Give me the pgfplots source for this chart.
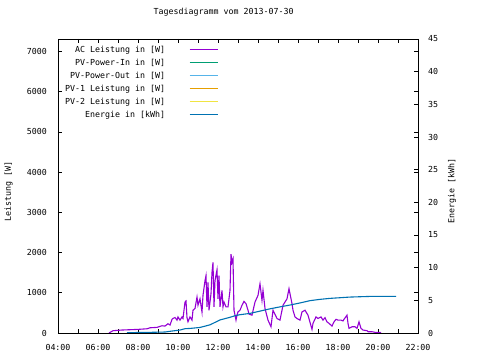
\documentclass[border=0pt]{standalone}
\usepackage{fontspec}
\setmainfont{DejaVu Sans Mono}
\usepackage{pgfplots}
\pgfplotsset{compat=1.18}
\definecolor{cac}{HTML}{9400D3}
\definecolor{cpin}{HTML}{009E73}
\definecolor{cpout}{HTML}{56B4E9}
\definecolor{cpv1}{HTML}{E69F00}
\definecolor{cpv2}{HTML}{F0E442}
\definecolor{cen}{HTML}{0072B2}
\begin{document}
\begin{tikzpicture}[font=\fontsize{8.3bp}{10bp}\selectfont]
\useasboundingbox (-58bp,-27bp) rectangle (422bp,333bp);
\pgfplotsset{gpbase/.style={scale only axis, width=360bp, height=294bp, at={(0,0)}, anchor=south west,
  xmin=4, xmax=22, tick align=inside, major tick length=4bp,
  /pgf/number format/assume math mode=true,
  tick style={black, line width=0.8bp}, axis line style={line width=0.9bp},
  every tick label/.append style={font=\fontsize{8.3bp}{10bp}\selectfont},
  label style={font=\fontsize{8.3bp}{10bp}\selectfont}}}
\begin{axis}[gpbase, ymin=0, ymax=7310, ytick={0,1000,...,7000}, ytick pos=both, yticklabel pos=left,
  scaled y ticks=false, yticklabel style={/pgf/number format/1000 sep={}, inner sep=0pt, xshift=-11bp},
  xtick={4,5,...,22}, xtick pos=both, xticklabel pos=lower,
  xticklabels={04:00,,06:00,,08:00,,10:00,,12:00,,14:00,,16:00,,18:00,,20:00,,22:00},
  xticklabel style={inner sep=0pt, yshift=-11bp},
  ylabel={Leistung [W]}, ylabel style={at={(axis description cs:-0.1375,0.48)}, anchor=center},
  title={Tagesdiagramm vom 2013-07-30}, title style={at={(axis description cs:0.46,1.0714)}, anchor=center, font=\fontsize{8.3bp}{10bp}\selectfont}]
\addplot[color=cac, line width=1.1bp] coordinates {
(6.55,0) (6.75,57) (7.2,74) (8.0,90) (8.45,105) (8.6,130) (8.95,140) (9.2,180) (9.35,172) (9.5,230)
(9.6,197) (9.7,337) (9.75,361) (9.85,385) (9.95,320) (10.0,400) (10.1,320) (10.2,400) (10.25,360)
(10.35,770) (10.4,795) (10.45,380) (10.5,280) (10.6,400) (10.7,320) (10.75,566) (10.85,610) (10.95,893)
(11.0,690) (11.1,850) (11.2,520) (11.25,935) (11.35,1304) (11.4,1427) (11.45,650) (11.5,1260) (11.55,566)
(11.65,975) (11.7,1508) (11.75,1754) (11.8,650) (11.85,1304) (11.95,1570) (12.0,850) (12.05,1427)
(12.1,650) (12.2,1058) (12.25,650) (12.3,770) (12.4,650) (12.5,650) (12.6,1058) (12.65,1962) (12.7,1754)
(12.75,1840) (12.8,566) (12.9,320) (12.95,443) (13.0,524) (13.1,566) (13.2,690) (13.3,785) (13.4,730)
(13.5,566) (13.55,470) (13.7,443) (13.85,770) (14.0,935) (14.1,1223) (14.2,810) (14.25,1058) (14.35,610)
(14.5,320) (14.65,155) (14.75,566) (14.95,360) (15.1,320) (15.25,690) (15.45,850) (15.55,1100) (15.7,730)
(15.75,566) (15.85,400) (15.95,360) (16.1,320) (16.2,524) (16.35,566) (16.5,443) (16.7,90) (16.75,240)
(16.9,400) (17.0,361) (17.15,400) (17.25,320) (17.35,380) (17.45,278) (17.55,240) (17.7,172) (17.8,278)
(17.9,340) (18.0,320) (18.15,320) (18.25,300) (18.3,340) (18.45,443) (18.5,240) (18.55,115) (18.7,155)
(18.85,155) (18.95,115) (19.05,278) (19.15,115) (19.25,74) (19.45,57) (19.5,32) (19.7,32) (19.85,17)
(20.1,17) (20.15,0)
};
\end{axis}
\begin{axis}[gpbase, hide x axis, axis y line*=right, ymin=0, ymax=45, ytick={0,5,...,45},
  yticklabel style={inner sep=0pt, xshift=10bp, anchor=west},
  ylabel={Energie [kWh]}, ylabel style={at={(axis description cs:1.0944,0.483)}, anchor=center},
  legend style={at={(axis description cs:0.0194,0.9796)}, anchor=north west, draw=none, fill=none,
    legend plot pos=right, cells={anchor=east}, inner sep=0pt, column sep=24bp, row sep=4bp,
    nodes={inner sep=0pt, text height=7bp, text depth=2bp}, font=\fontsize{8.3bp}{10bp}\selectfont},
  legend image code/.code={\draw[#1, line width=1.1bp] (0bp,0bp) -- (28bp,0bp);}]
\addlegendimage{color=cac}\addlegendentry{AC Leistung in [W]}
\addlegendimage{color=cpin}\addlegendentry{PV-Power-In in [W]}
\addlegendimage{color=cpout}\addlegendentry{PV-Power-Out in [W]}
\addlegendimage{color=cpv1}\addlegendentry{PV-1 Leistung in [W]}
\addlegendimage{color=cpv2}\addlegendentry{PV-2 Leistung in [W]}
\addlegendimage{color=cen}\addlegendentry{Energie in [kWh]}
\addplot[color=cen, line width=1.1bp, forget plot] coordinates {
(7.45,0.05) (8.6,0.1) (9.35,0.15) (9.7,0.3) (10.1,0.45) (10.35,0.66) (10.6,0.7) (11.1,0.85) (11.6,1.25)
(12.1,2.0) (12.6,2.4) (12.85,2.65) (13.1,2.8) (13.6,3.0) (14.1,3.35) (14.6,3.7) (15.1,4.0) (15.6,4.28)
(16.1,4.6) (16.6,4.95) (17.1,5.15) (17.6,5.3) (18.1,5.4) (18.6,5.5) (19.1,5.55) (19.6,5.6) (20.9,5.6)
};
\end{axis}
\end{tikzpicture}
\end{document}
